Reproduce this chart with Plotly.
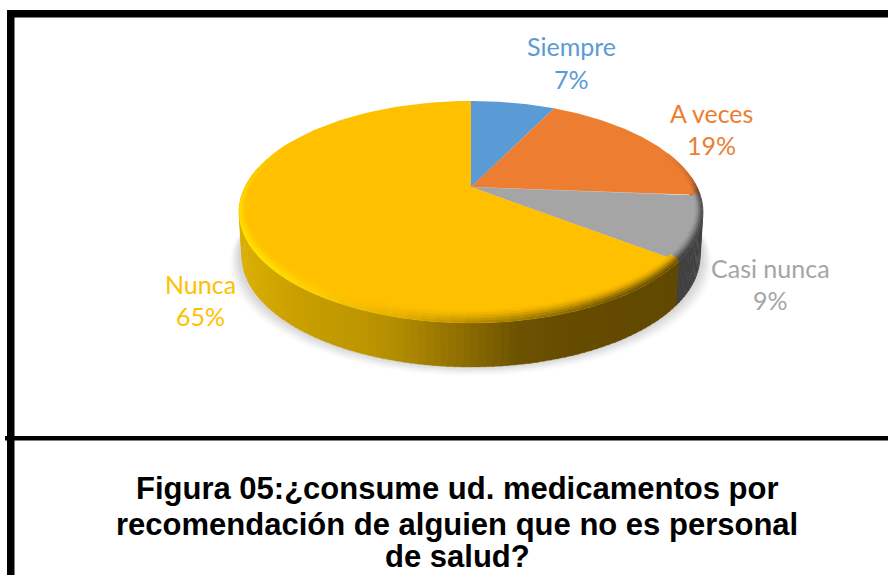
import numpy as np
import plotly.graph_objects as go

categories = ["Siempre", "A veces", "Casi nunca", "Nunca"]
percent_values = [7.3, 18.9, 9.2, 64.6]
slice_colors = ["#5B9BD5", "#ED7D31", "#A5A5A5", "#FFC000"]
label_centers_x = [571, 711, 770, 200]
name_centers_y = [45.5, 112.5, 267.5, 283.5]
percent_centers_y = [79, 145, 300, 316]
title_lines = ["Figura 05:¿consume ud. medicamentos por",
               "recomendación de alguien que no es personal",
               "de salud?"]

CX, CY, A, B, K = 471.0, 187.0, 226.0, 105.4, 0.225
DEPTH = 44.0


def project(t_deg, ru=1.0, rv=1.0, dy=0.0, scale=1.0):
    t = np.radians(t_deg)
    u, v = np.sin(t) * ru, np.cos(t) * rv
    w = 1 + K * v
    return CX + A * scale * u / w, CY - B * v / w + dy


def hex_rgb(c):
    c = c.lstrip("#")
    return np.array([int(c[i:i + 2], 16) for i in (0, 2, 4)], float)


def rgb_str(a):
    return "rgb(%d,%d,%d)" % tuple(np.clip(a, 0, 255).round())


def lookup(table, x):
    xs = [p[0] for p in table]
    cols = np.array([hex_rgb(p[1]) for p in table])
    return np.array([np.interp(x, xs, cols[:, i]) for i in range(3)])


def poly(fig, xs, ys, color, lw=0.6, opacity=None):
    fig.add_trace(go.Scatter(x=list(xs), y=list(ys), mode="lines", fill="toself",
                             fillcolor=color, line=dict(color=color, width=lw),
                             hoverinfo="skip", showlegend=False,
                             opacity=opacity))


cum = np.cumsum([0] + percent_values) * 3.6
fig = go.Figure()

# soft shadow under the pie
ts = np.linspace(0, 360, 181)
for grow, alpha in zip([9, 7, 5, 3, 1], [0.035, 0.05, 0.06, 0.07, 0.08]):
    sx, sy = project(ts, dy=DEPTH + grow * 0.95, scale=1 + grow / 226)
    poly(fig, sx, sy, "rgb(110,110,110)", lw=0, opacity=alpha)

# side wall
wall_yellow = [(243, "#DAAE00"), (300, "#C89E00"), (360, "#BE9600"), (400, "#B08C00"),
               (440, "#9A7700"), (470, "#8A6A00"), (520, "#6C5200"), (560, "#664C00"),
               (680, "#604800")]
wall_tables = {0: [(0, "#333333"), (900, "#333333")],
               1: [(0, "#7A4018"), (900, "#7A4018")],
               2: [(0, "#4A4A4A"), (900, "#3E3E3E")],
               3: wall_yellow}
edge_t = np.arange(84, 282, 1.5)
for t0, t1 in zip(edge_t[:-1], edge_t[1:]):
    tm = (t0 + t1) / 2
    idx = int(np.searchsorted(cum, tm % 360) - 1)
    tt = np.linspace(t0, t1 + 0.3, 3)
    xa, ya = project(tt)
    xb, yb = project(tt[::-1], dy=DEPTH, scale=0.988)
    col = rgb_str(lookup(wall_tables[idx], float(project(tm)[0])))
    poly(fig, np.r_[xa, xb], np.r_[ya, yb], col, lw=0.3)

# top surface slices
for i, cat in enumerate(categories):
    tt = np.linspace(cum[i], cum[i + 1], 120)
    xa, ya = project(tt)
    poly(fig, np.r_[CX, xa, CX], np.r_[CY, ya, CY], slice_colors[i], lw=0)

# bevelled rim
bevel_tables = {
    1: [(70, "#ED7D31"), (86, "#C06A30"), (94, "#554038")],
    2: [(93, "#555555"), (126, "#3E3E3E")],
    3: [(126, "#6B5000"), (150, "#7A5C00"), (175, "#B08600"), (195, "#E8B000"),
        (215, "#FFD000"), (232, "#FFE400"), (262, "#FFD800"), (300, "#FFC000")],
}
bands = [(1.0, 0.8, 0.08), (0.8, 0.6, 0.25), (0.6, 0.4, 0.5), (0.4, 0.2, 0.78), (0.2, 0.0, 1.0)]
rim_t = np.arange(70, 300, 3.0)
for t0, t1 in zip(rim_t[:-1], rim_t[1:]):
    tm = (t0 + t1) / 2
    idx = int(np.searchsorted(cum, tm % 360) - 1)
    if idx not in bevel_tables:
        continue
    base = hex_rgb(slice_colors[idx])
    edge = lookup(bevel_tables[idx], tm)
    tt = np.array([t0, t1 + 0.2])
    for s0, s1, weight in bands:
        xa, ya = project(tt, 1 - 0.03 * s0, 1 - 0.075 * s0)
        xb, yb = project(tt[::-1], 1 - 0.03 * s1, 1 - 0.075 * s1)
        poly(fig, np.r_[xa, xb], np.r_[ya, yb], rgb_str(base + (edge - base) * weight), lw=0.3)

# labels
label_font = dict(family="Lato", size=25)
for cat, val, col, lx, ny, py in zip(categories, percent_values, slice_colors,
                                     label_centers_x, name_centers_y, percent_centers_y):
    fig.add_annotation(x=lx, y=ny, text=cat, showarrow=False,
                       font=dict(color=col, **label_font),
                       xanchor="center", yanchor="middle")
    fig.add_annotation(x=lx, y=py, text=f"{round(val)}%", showarrow=False,
                       font=dict(color=col, **label_font),
                       xanchor="center", yanchor="middle")

# caption
for line, y in zip(title_lines, [488, 524, 556]):
    fig.add_annotation(x=457, y=y, text=f"<b>{line}</b>", showarrow=False,
                       font=dict(family="Liberation Sans", size=31, color="#000000"),
                       xanchor="center", yanchor="middle")

# frame
frame = dict(type="rect", fillcolor="#000000", line_width=0, xref="x", yref="y", layer="above")
fig.add_shape(x0=7, x1=14.5, y0=10, y1=575, **frame)
fig.add_shape(x0=7, x1=888, y0=10, y1=17.5, **frame)
fig.add_shape(x0=5, x1=888, y0=436, y1=440.5, **frame)

fig.update_layout(width=888, height=575, margin=dict(l=0, r=0, t=0, b=0),
                  paper_bgcolor="white", plot_bgcolor="white", showlegend=False,
                  xaxis=dict(range=[0, 888], visible=False, fixedrange=True),
                  yaxis=dict(range=[575, 0], visible=False, fixedrange=True))
fig.write_html("out.html", config=dict(displayModeBar=False),
               post_script="document.body.style.margin='0';")
